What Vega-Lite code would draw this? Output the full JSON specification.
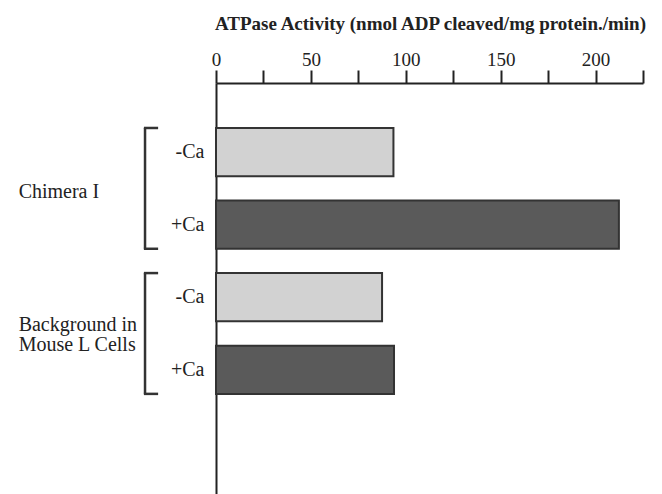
{
  "$schema": "https://vega.github.io/schema/vega-lite/v6.json",
  "autosize": "none",
  "width": 427,
  "height": 411,
  "padding": {"left": 216, "top": 83, "right": 19, "bottom": 0},
  "background": "white",
  "config": {"view": {"stroke": null}, "font": "Liberation Serif"},
  "datasets": {
    "bars": [
      {"bar": "-Ca (Chimera I)", "condition": "-Ca", "activity": 93.5},
      {"bar": "+Ca (Chimera I)", "condition": "+Ca", "activity": 212.3},
      {"bar": "-Ca (Background)", "condition": "-Ca", "activity": 87.5},
      {"bar": "+Ca (Background)", "condition": "+Ca", "activity": 93.8}
    ],
    "groups": [
      {"label": ["Chimera I"], "first": "-Ca (Chimera I)", "last": "+Ca (Chimera I)"},
      {"label": ["Background in", "Mouse L Cells"], "first": "-Ca (Background)", "last": "+Ca (Background)"}
    ]
  },
  "resolve": {"scale": {"y": "shared"}},
  "layer": [
    {
      "data": {"name": "bars"},
      "mark": {"type": "bar", "stroke": "#333333", "strokeWidth": 2},
      "encoding": {
        "y": {
          "field": "bar", "type": "nominal",
          "scale": {
            "domain": ["-Ca (Chimera I)", "+Ca (Chimera I)", "-Ca (Background)", "+Ca (Background)"],
            "paddingInner": 0.335, "paddingOuter": 1.074, "align": 0.31
          },
          "axis": {
            "orient": "left", "title": null, "ticks": false,
            "domainColor": "#222222", "domainWidth": 2,
            "labelPadding": 12, "labelFontSize": 20, "labelColor": "#222222",
            "labelFont": "Liberation Serif",
            "labelExpr": "split(datum.label, ' ')[0]"
          }
        },
        "x": {
          "field": "activity", "type": "quantitative",
          "scale": {"domain": [0, 225], "nice": false},
          "axis": {
            "orient": "top",
            "values": [0, 25, 50, 75, 100, 125, 150, 175, 200, 225],
            "labelExpr": "datum.value % 50 == 0 && datum.value <= 200 ? datum.label : ''",
            "grid": false, "tickSize": 13, "tickWidth": 2, "tickColor": "#222222",
            "domainColor": "#222222", "domainWidth": 2,
            "labelPadding": 1, "labelFontSize": 19, "labelColor": "#222222",
            "labelFlush": false,
            "title": "ATPase Activity (nmol ADP cleaved/mg protein./min)",
            "titleFontSize": 19, "titleFontWeight": "bold", "titleColor": "#222222",
            "titlePadding": 17, "titleX": 214, "titleAnchor": "middle"
          }
        },
        "color": {
          "field": "condition", "type": "nominal",
          "scale": {"domain": ["-Ca", "+Ca"], "range": ["#d2d2d2", "#5a5a5a"]},
          "legend": null
        }
      }
    },
    {
      "data": {"name": "groups"},
      "mark": {"type": "rule", "stroke": "#333333", "strokeWidth": 2.5, "clip": false},
      "encoding": {
        "x": {"datum": -37.4, "type": "quantitative"},
        "y": {"field": "first", "type": "nominal", "bandPosition": 0},
        "y2": {"field": "last", "bandPosition": 1}
      }
    },
    {
      "data": {"name": "groups"},
      "mark": {"type": "rule", "stroke": "#333333", "strokeWidth": 2.5, "clip": false},
      "encoding": {
        "x": {"datum": -38, "type": "quantitative"},
        "x2": {"datum": -30.5},
        "y": {"field": "first", "type": "nominal", "bandPosition": 0}
      }
    },
    {
      "data": {"name": "groups"},
      "mark": {"type": "rule", "stroke": "#333333", "strokeWidth": 2.5, "clip": false},
      "encoding": {
        "x": {"datum": -38, "type": "quantitative"},
        "x2": {"datum": -30.5},
        "y": {"field": "last", "type": "nominal", "bandPosition": 1}
      }
    },
    {
      "data": {"name": "groups"},
      "transform": [{"filter": "datum.first == '-Ca (Chimera I)'"}],
      "mark": {"type": "text", "align": "left", "baseline": "middle", "fontSize": 20, "color": "#222222", "dy": -9, "clip": false, "font": "Liberation Serif"},
      "encoding": {
        "x": {"datum": -104, "type": "quantitative"},
        "y": {"field": "last", "type": "nominal", "bandPosition": 0},
        "text": {"field": "label"}
      }
    },
    {
      "data": {"name": "groups"},
      "transform": [{"filter": "datum.first == '-Ca (Background)'"}],
      "mark": {"type": "text", "align": "left", "baseline": "middle", "fontSize": 20, "color": "#222222", "lineHeight": 20, "dy": -21, "clip": false, "font": "Liberation Serif"},
      "encoding": {
        "x": {"datum": -104, "type": "quantitative"},
        "y": {"field": "last", "type": "nominal", "bandPosition": 0},
        "text": {"field": "label"}
      }
    }
  ]
}
